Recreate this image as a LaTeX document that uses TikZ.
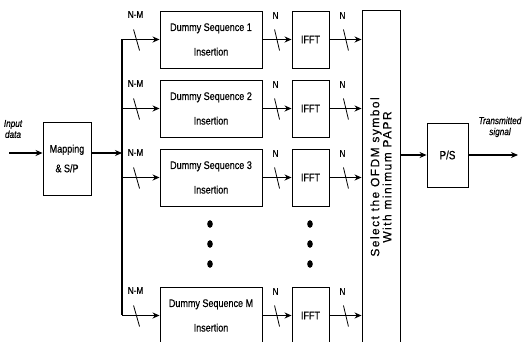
\documentclass[tikz,border=0pt]{standalone}
\usepackage{fontspec}
\setmainfont{Liberation Sans}
\newfontfamily\narrowsf[FakeStretch=0.82, FakeBold=0.5]{Liberation Sans}
\newfontfamily\spacedsf[LetterSpace=12, FakeBold=0.3]{Liberation Sans}
\usetikzlibrary{arrows.meta,positioning,calc}
\newcommand\boxfont{\narrowsf\fontsize{11}{13.6}\selectfont}
\newcommand\lblfont{\narrowsf\fontsize{10}{11}\selectfont}

\begin{document}
\begin{tikzpicture}[x=1pt, y=-1pt, >={Stealth[length=7pt,width=6pt]}, font=\boxfont,
  blk/.style={draw, line width=0.9pt, minimum width=102pt, minimum height=57pt, inner sep=0pt, align=center},
  sig/.style={->, line width=1.2pt},
  tick/.style={line width=0.8pt},
  lbl/.style={font=\lblfont, inner sep=1pt}]
\useasboundingbox (0,0) rectangle (523,342);
\clip (0,0) rectangle (523,342);
% input side
\node[blk, minimum width=48pt, minimum height=73pt] (map) at (67,158.5) {Mapping\\[6pt]\& S/P};
\coordinate (in) at (9,153);
\node[font=\lblfont\itshape, align=center, inner sep=0pt] (indata) at (13,129) {Input\\data};
\draw[sig] (in) -- (map.west |- in);
\coordinate (bustop) at (122,39.5);
\coordinate (busbot) at (122,315.5);
\draw[line width=1.2pt] (bustop) -- (busbot);
\draw[sig] (map.east |- in) -- (bustop |- in);
% selection bar
\node[draw, line width=0.9pt, minimum width=38pt, minimum height=340pt, inner sep=0pt] (sel) at (381,180) {};
\node[font=\spacedsf\fontsize{12}{11}\selectfont, rotate=90, align=center] (seltxt) at ($(sel.center)+(0,-3)$)
  {Select the OFDM symbol\\With minimum PAPR};
% branches
\foreach \i/\m in {1/1, 2/2, 3/3, 5/M}{
  \node[blk] (dum\i) at (211,{39.5+69*(\i-1)}) {Dummy Sequence \m\\[11pt]Insertion};
  \node[blk, minimum width=37pt] (ifft\i) at (310.5,{39.5+69*(\i-1)}) {IFFT};
  \draw[sig] (bustop |- dum\i.west) -- (dum\i.west);
  \draw[sig] (dum\i.east) -- (ifft\i.west);
  \draw[sig] (ifft\i.east) -- (sel.west |- ifft\i.east);
  % bus width marks
  \draw[tick] (dum\i.west) ++(-26pt,10pt) -- ++(6pt,-21pt);
  \draw[tick] (ifft\i.west) ++(-17pt,10pt) -- ++(5pt,-21pt);
  \draw[tick] (ifft\i.east) ++(14pt,10pt) -- ++(5pt,-21pt);
  \node[lbl] at ($(dum\i.west)+(-24,-25)$) {N-M};
  \node[lbl] at ($(ifft\i.west)+(-16,-24)$) {N};
  \node[lbl] at ($(ifft\i.east)+(13,-24)$) {N};
}
% dots
\foreach \yy in {224,244,264}{
  \fill (210,\yy) ellipse (2.8pt and 3.8pt);
  \fill (310,\yy) ellipse (2.8pt and 3.8pt);
}
% output side
\node[blk, minimum width=41pt, minimum height=64pt, font=\narrowsf\fontsize{12}{14}\selectfont] (ps) at (447.5,155) {P/S};
\coordinate (out) at (518,155);
\draw[sig] (sel.east |- ps) -- (ps.west);
\draw[sig] (ps.east) -- (out);
\node[font=\lblfont\itshape, align=center, inner sep=0pt] (txsig) at (500,127) {Transmitted\\signal};
\end{tikzpicture}
\end{document}
